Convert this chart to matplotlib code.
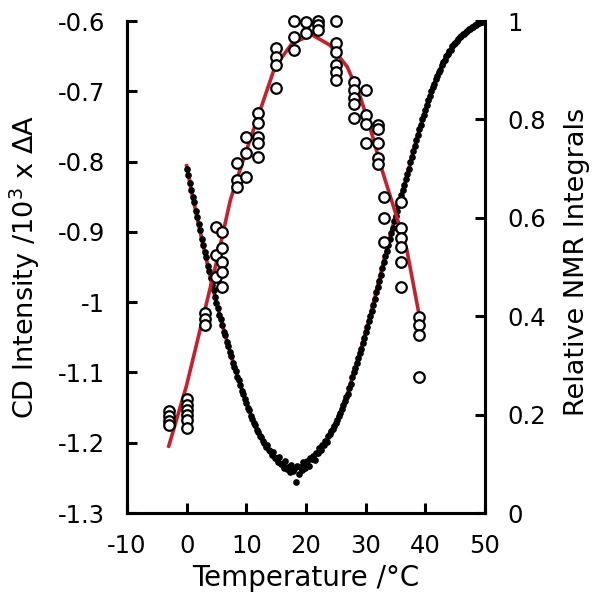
import matplotlib
matplotlib.use("Agg")
import matplotlib.pyplot as plt
from matplotlib.ticker import FuncFormatter

# CD intensity (left axis), temperature ramp
cd_temp = [
    0.0, 0.25, 0.5, 0.75, 1.0, 1.25, 1.5, 1.75, 2.0, 2.25, 2.5, 2.75,
    3.0, 3.25, 3.5, 3.75, 4.0, 4.25, 4.5, 4.75, 5.0, 5.25, 5.5, 5.75,
    6.0, 6.25, 6.5, 6.75, 7.0, 7.25, 7.5, 7.75, 8.0, 8.25, 8.5, 8.75,
    9.0, 9.25, 9.5, 9.75, 10.0, 10.25, 10.5, 10.75, 11.0, 11.25, 11.5, 11.75,
    12.0, 12.25, 12.5, 12.75, 13.0, 13.25, 13.5, 13.75, 14.0, 14.25, 14.5, 14.75,
    15.0, 15.25, 15.5, 15.75, 16.0, 16.25, 16.5, 16.75, 17.0, 17.25, 17.5, 17.75,
    18.0, 18.25, 18.5, 18.75, 19.0, 19.25, 19.5, 19.75, 20.0, 20.25, 20.5, 20.75,
    21.0, 21.25, 21.5, 21.75, 22.0, 22.25, 22.5, 22.75, 23.0, 23.25, 23.5, 23.75,
    24.0, 24.25, 24.5, 24.75, 25.0, 25.25, 25.5, 25.75, 26.0, 26.25, 26.5, 26.75,
    27.0, 27.25, 27.5, 27.75, 28.0, 28.25, 28.5, 28.75, 29.0, 29.25, 29.5, 29.75,
    30.0, 30.25, 30.5, 30.75, 31.0, 31.25, 31.5, 31.75, 32.0, 32.25, 32.5, 32.75,
    33.0, 33.25, 33.5, 33.75, 34.0, 34.25, 34.5, 34.75, 35.0, 35.25, 35.5, 35.75,
    36.0, 36.25, 36.5, 36.75, 37.0, 37.25, 37.5, 37.75, 38.0, 38.25, 38.5, 38.75,
    39.0, 39.25, 39.5, 39.75, 40.0, 40.25, 40.5, 40.75, 41.0, 41.25, 41.5, 41.75,
    42.0, 42.25, 42.5, 42.75, 43.0, 43.25, 43.5, 43.75, 44.0, 44.25, 44.5, 44.75,
    45.0, 45.25, 45.5, 45.75, 46.0, 46.25, 46.5, 46.75, 47.0, 47.25, 47.5, 47.75,
    48.0, 48.25, 48.5, 48.75, 49.0, 49.25, 49.5, 49.75, 50.0,
]
cd_value = [
    -0.810, -0.819, -0.831, -0.840, -0.850, -0.858, -0.870, -0.879,
    -0.889, -0.897, -0.910, -0.918, -0.928, -0.936, -0.948, -0.955,
    -0.965, -0.975, -0.982, -0.993, -1.001, -1.008, -1.018, -1.024,
    -1.033, -1.042, -1.047, -1.056, -1.063, -1.071, -1.077, -1.086,
    -1.092, -1.098, -1.106, -1.111, -1.118, -1.126, -1.130, -1.138,
    -1.143, -1.150, -1.154, -1.162, -1.166, -1.172, -1.175, -1.182,
    -1.185, -1.191, -1.192, -1.198, -1.200, -1.206, -1.203, -1.210,
    -1.212, -1.218, -1.213, -1.222, -1.222, -1.228, -1.221, -1.230,
    -1.230, -1.236, -1.226, -1.238, -1.235, -1.242, -1.231, -1.240,
    -1.237, -1.256, -1.233, -1.244, -1.235, -1.239, -1.228, -1.236,
    -1.230, -1.226, -1.233, -1.222, -1.223, -1.219, -1.224, -1.214,
    -1.214, -1.208, -1.211, -1.203, -1.203, -1.197, -1.199, -1.191,
    -1.188, -1.184, -1.180, -1.176, -1.172, -1.168, -1.162, -1.157,
    -1.152, -1.146, -1.141, -1.135, -1.130, -1.122, -1.116, -1.107,
    -1.100, -1.094, -1.087, -1.080, -1.073, -1.066, -1.058, -1.051,
    -1.043, -1.036, -1.027, -1.020, -1.012, -1.004, -0.995, -0.986,
    -0.978, -0.970, -0.961, -0.952, -0.943, -0.935, -0.927, -0.918,
    -0.910, -0.901, -0.894, -0.885, -0.877, -0.870, -0.862, -0.855,
    -0.848, -0.840, -0.833, -0.825, -0.818, -0.810, -0.801, -0.793,
    -0.785, -0.778, -0.769, -0.762, -0.754, -0.748, -0.740, -0.734,
    -0.727, -0.720, -0.713, -0.706, -0.700, -0.694, -0.689, -0.682,
    -0.678, -0.672, -0.669, -0.663, -0.659, -0.656, -0.650, -0.647,
    -0.643, -0.641, -0.636, -0.633, -0.631, -0.628, -0.626, -0.623,
    -0.622, -0.619, -0.618, -0.615, -0.614, -0.612, -0.611, -0.608,
    -0.608, -0.606, -0.605, -0.603, -0.603, -0.601, -0.602, -0.599,
    -0.600,
]

# CD fit curve
cd_fit_temp = [0, 1, 2, 3, 4, 5, 6, 7, 8, 9, 10, 11, 12, 13, 14, 15, 16, 17,
               18, 19, 20, 21, 22, 23, 24, 25, 26, 27, 28, 29, 30, 31, 32, 33,
               34, 35, 36, 37, 38, 39, 40, 41, 42, 43, 44, 45, 46, 47, 48, 49, 50]
cd_fit_value = [-0.806, -0.850, -0.889, -0.928, -0.965, -1.001, -1.033, -1.063,
                -1.092, -1.118, -1.143, -1.166, -1.185, -1.200, -1.212, -1.222,
                -1.230, -1.235, -1.237, -1.235, -1.230, -1.223, -1.214, -1.203,
                -1.188, -1.172, -1.152, -1.130, -1.100, -1.073, -1.043, -1.012,
                -0.978, -0.943, -0.910, -0.877, -0.848, -0.818, -0.785, -0.754,
                -0.727, -0.700, -0.678, -0.659, -0.643, -0.631, -0.622, -0.614,
                -0.608, -0.603, -0.600]

# NMR relative integrals (right axis)
nmr_temp = (
    [-3] * 4 + [0] * 6 + [3] * 3 + [5] * 3 + [6] * 5 + [8.5] * 3 + [10] * 3
    + [12] * 5 + [15] * 4 + [18] * 3 + [20] * 2 + [22] * 3 + [25] * 6
    + [28] * 5 + [30] * 4 + [32] * 5 + [33] * 3 + [36] * 6 + [39] * 4
)
nmr_value = [
    0.207, 0.197, 0.188, 0.179,
    0.232, 0.220, 0.209, 0.199, 0.189, 0.173,
    0.407, 0.394, 0.382,
    0.581, 0.524, 0.480,
    0.571, 0.539, 0.510, 0.490, 0.459,
    0.711, 0.677, 0.663,
    0.764, 0.732, 0.683,
    0.813, 0.793, 0.764, 0.752, 0.724,
    0.945, 0.927, 0.911, 0.864,
    1.000, 0.967, 0.941,
    0.998, 0.976,
    1.000, 0.992, 0.982,
    1.000, 0.955, 0.937, 0.911, 0.896, 0.880,
    0.876, 0.860, 0.843, 0.831, 0.803,
    0.860, 0.809, 0.791, 0.752,
    0.789, 0.780, 0.752, 0.722, 0.709,
    0.642, 0.600, 0.551,
    0.632, 0.579, 0.559, 0.541, 0.510, 0.459,
    0.398, 0.382, 0.362, 0.276,
]

# NMR fit curve
nmr_fit_temp = [-3, 0, 3, 5, 7.3, 8.6, 10.1, 11.8, 14.8, 17.7, 21.0, 24.0,
                26.9, 29.1, 31.2, 32.8, 35.2, 36.9, 38.8]
nmr_fit_value = [0.136, 0.26, 0.41, 0.51, 0.635, 0.685, 0.74, 0.80, 0.907,
                 0.955, 0.972, 0.951, 0.907, 0.846, 0.764, 0.695, 0.602,
                 0.535, 0.413]

RED = '#c8202a'
plt.rcParams['axes.unicode_minus'] = False
plt.rcParams['font.family'] = 'DejaVu Sans'

fig = plt.figure(figsize=(6.01, 6.02), dpi=100)
ax = fig.add_axes([0.2113, 0.1478, 0.5957, 0.8173])
ax2 = ax.twinx()

ax.plot(cd_fit_temp, cd_fit_value, color=RED, lw=2.7, zorder=2)
ax.plot(cd_temp, cd_value, ls='none', marker='o', ms=3.8, color='black',
        zorder=3)

ax2.plot(nmr_fit_temp, nmr_fit_value, color=RED, lw=2.6, zorder=2)
ax2.plot(nmr_temp, nmr_value, ls='none', marker='o', ms=7.6, mfc='white',
         mec='black', mew=1.6, zorder=3, clip_on=False)

ax.set_xlim(-10, 50)
ax.set_ylim(-1.3, -0.6)
ax2.set_ylim(0, 1)
ax.set_xticks(range(-10, 51, 10))
ax.set_yticks([-1.3, -1.2, -1.1, -1.0, -0.9, -0.8, -0.7, -0.6])
ax2.set_yticks([0, 0.2, 0.4, 0.6, 0.8, 1.0])
fmt = FuncFormatter(lambda v, p: '%g' % round(v, 2))
ax.xaxis.set_major_formatter(fmt)
ax.yaxis.set_major_formatter(fmt)
ax2.yaxis.set_major_formatter(fmt)

for a in (ax, ax2):
    a.spines['top'].set_visible(False)
    for s in ('left', 'right', 'bottom'):
        a.spines[s].set_linewidth(2.2)
ax.tick_params(axis='both', direction='in', length=7, width=2.2,
               labelsize=17.5, pad=16)
ax.tick_params(axis='x', pad=15)
ax2.tick_params(axis='y', direction='in', length=7, width=2.2,
                labelsize=17.5, pad=16)

ax.set_xlabel('Temperature /°C', fontsize=20, va='center')
ax.xaxis.set_label_coords(0.5, -0.132)
ax.set_ylabel('CD Intensity /10$^3$ x ΔA', fontsize=19.5, va='center')
ax.yaxis.set_label_coords(-0.285, 0.5)
ax2.set_ylabel('Relative NMR Integrals', fontsize=19.5, va='center')
ax2.yaxis.set_label_coords(1.257, 0.51)

fig.savefig('out.png', dpi=100)
